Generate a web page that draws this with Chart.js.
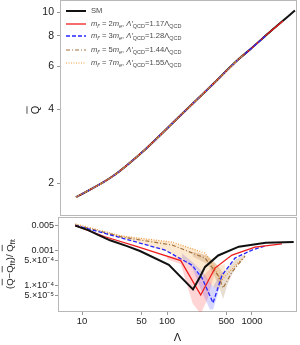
<!DOCTYPE html>
<html>
<head>
<meta charset="utf-8">
<script src="https://cdn.jsdelivr.net/npm/chart.js@4.4.1/dist/chart.umd.min.js"></script>
<style>
  body { margin: 0; background: #fff; width: 300px; height: 345px; overflow: hidden; position: relative; }
  canvas { position: absolute; left: 0; }
  #top-chart { top: 0; }
  #bot-chart { top: 217px; }
</style>
</head>
<body>
<canvas id="top-chart" width="300" height="217"></canvas>
<canvas id="bot-chart" width="300" height="128"></canvas>
<script>
// ---- top panel: Qbar vs Lambda ----
const topLamSM = [8.05, 21.3, 52.2, 131, 321, 684, 946, 1600, 3206];
const topSM    = [1.755, 2.12, 2.73, 3.70, 4.98, 6.41, 7.05, 8.28, 10.14];
const topLam2  = [8.05, 21.3, 52.2, 131, 321, 684, 946, 1600, 2317];
const topQ2    = [1.755, 2.12, 2.73, 3.70, 4.98, 6.41, 7.05, 8.28, 9.2];
const topLam3  = [8.05, 21.3, 52.2, 131, 321, 684, 946, 1422];
const topQ3    = [1.755, 2.12, 2.73, 3.70, 4.98, 6.41, 7.05, 7.96];
const topLam5  = [8.05, 21.3, 52.2, 131, 321, 684, 828];
const topQ5    = [1.755, 2.12, 2.73, 3.70, 4.98, 6.41, 6.78];
const topLam7  = [8.05, 21.3, 52.2, 131, 321, 684, 780];
const topQ7    = [1.755, 2.12, 2.73, 3.70, 4.98, 6.41, 6.7];
const topYTicks = [2, 4, 6, 8, 10];

// ---- bottom panel: relative deviation from fit ----
const botLamSM = [8.3, 11.8, 15.4, 21.3, 33.8, 48, 105, 202, 244, 280, 400, 700, 1450, 3100];
const botSM    = [5.0e-3, 3.7e-3, 2.7e-3, 1.9e-3, 1.3e-3, 9.4e-4, 3.8e-4, 7.5e-5, 1.7e-4, 3.3e-4, 7.0e-4, 1.25e-3, 1.62e-3, 1.7e-3];
const botLam2  = [8.3, 18.6, 45.6, 145, 249, 367, 582, 1084, 2254];
const botQ2    = [5.0e-3, 2.4e-3, 1.24e-3, 5.0e-4, 5.2e-5, 3.06e-4, 7.2e-4, 1.22e-3, 1.5e-3];
const botLam3  = [8.3, 29.5, 94.6, 197, 258, 348, 444, 631, 1000, 1422];
const botQ3    = [5.1e-3, 2.2e-3, 1.0e-3, 3.7e-4, 1.6e-4, 3.1e-5, 1.9e-4, 5.9e-4, 1.0e-3, 1.3e-3];
const botLam5  = [8.3, 29.5, 115, 280, 398, 456, 582, 828];
const botQ5    = [5.3e-3, 2.35e-3, 1.39e-3, 5.9e-4, 1.9e-4, 8.2e-5, 2.35e-4, 6.7e-4];
const botLam7  = [8.3, 29.5, 115, 280, 367, 430, 560, 780];
const botQ7    = [5.6e-3, 2.5e-3, 1.69e-3, 8.2e-4, 3.0e-4, 1.3e-4, 2.6e-4, 5.9e-4];

// uncertainty bands
const band2Lam = [100, 145, 200, 249, 300, 367];
const band2Hi  = [7e-4, 6e-4, 3.5e-4, 1.5e-4, 2.5e-4, 3.6e-4];
const band2Lo  = [5.5e-4, 4e-4, 3e-5, 1.5e-5, 4e-5, 2.5e-4];
const band3Lam = [150, 200, 260, 320, 348, 400, 450];
const band3Hi  = [8e-4, 4.5e-4, 2.5e-4, 1.2e-4, 9e-5, 1.6e-4, 2.4e-4];
const band3Lo  = [6e-4, 3e-4, 6e-5, 2e-5, 2e-5, 6e-5, 1.8e-4];
const band7Lam = [20, 40, 100, 200, 300, 400, 480];
const band7Hi  = [3.2e-3, 2.3e-3, 1.75e-3, 1.1e-3, 6.5e-4, 3.5e-4, 4e-4];
const band7Lo  = [2.8e-3, 1.8e-3, 9e-4, 3.8e-4, 1.3e-4, 7e-5, 2e-4];
const band5Lam = [200, 300, 400, 456, 520, 650, 830];
const band5Hi  = [9e-4, 7e-4, 3.5e-4, 2.2e-4, 3.2e-4, 5.5e-4, 7.5e-4];
const band5Lo  = [6.5e-4, 4e-4, 1.1e-4, 4e-5, 1.1e-4, 3.5e-4, 6e-4];

const botXTicks = [10, 50, 100, 500, 1000];
const botYTicks = [5e-5, 1e-4, 5e-4, 1e-3, 5e-3];
const botYLabels = ["5.\u00d710\u207b\u2075", "1.\u00d710\u207b\u2074", "5.\u00d710\u207b\u2074", "0.001", "0.005"];

// series styles
const styles = {
    sm:  { color: "#111111", width: 2, dash: [] },
    m2:  { color: "#ee1c1c", width: 1.3, dash: [] },
    m3:  { color: "#2626ff", width: 1.3, dash: [4, 2] },
    m5:  { color: "#a0703c", width: 1.2, dash: [4, 2, 1, 2] },
    m7:  { color: "#f39a3c", width: 1.2, dash: [1, 1.5] },
};

const FONT = '"Liberation Sans", Arial, sans-serif';
const pts = (xs, ys) => xs.map((x, i) => ({ x, y: ys[i] }));

function lineSet(xs, ys, st, order, smooth) {
    return {
        data: pts(xs, ys),
        borderColor: st.color,
        borderWidth: st.width,
        borderDash: st.dash,
        pointRadius: 0,
        fill: false,
        order: order,
        cubicInterpolationMode: smooth ? "monotone" : "default",
    };
}

function bandSets(xs, hi, lo, color) {
    return [
        { data: pts(xs, hi), borderWidth: 0, pointRadius: 0, backgroundColor: color, fill: "+1", order: 20 },
        { data: pts(xs, lo), borderWidth: 0, pointRadius: 0, fill: false, order: 21 },
    ];
}

// text with italic / sub / overline pieces
function drawRich(c, parts, x, y, size) {
    let cx = x;
    parts.forEach((p) => {
        const s = p.sub ? size * 0.72 : size;
        c.font = (p.it ? "italic " : "") + s + "px " + FONT;
        const dy = p.sub ? size * 0.3 : 0;
        c.fillText(p.t, cx, y + dy);
        const w = c.measureText(p.t).width;
        if (p.bar) {
            c.save();
            c.lineWidth = 0.8;
            c.strokeStyle = c.fillStyle;
            c.beginPath();
            c.moveTo(cx + 0.5, y + dy - s * 0.82);
            c.lineTo(cx + w - 0.5, y + dy - s * 0.82);
            c.stroke();
            c.restore();
        }
        cx += w;
    });
    return cx - x;
}

function richWidth(c, parts, size) {
    let w = 0;
    parts.forEach((p) => {
        const s = p.sub ? size * 0.72 : size;
        c.font = (p.it ? "italic " : "") + s + "px " + FONT;
        w += c.measureText(p.t).width;
    });
    return w;
}

function drawRotated(c, parts, x, y, size) {
    c.save();
    c.translate(x, y);
    c.rotate(-Math.PI / 2);
    c.textBaseline = "middle";
    const w = richWidth(c, parts, size);
    drawRich(c, parts, -w / 2, 0, size);
    c.restore();
}

const framePlugin = {
    id: "frame",
    beforeDatasetsDraw(chart) {
        const a = chart.chartArea;
        const c = chart.ctx;
        c.save();
        c.strokeStyle = "#b8b8b8";
        c.lineWidth = 1;
        c.strokeRect(a.left + 0.5, a.top + 0.5, a.right - a.left - 1, a.bottom - a.top - 1);
        c.restore();
    },
};

const mfParts = (n, r) => [
    { t: "m", it: true }, { t: "f\u2032", sub: true, it: true }, { t: " = " + n }, { t: "m", it: true },
    { t: "e", sub: true, it: true }, { t: ", " }, { t: "\u039b\u2032", it: true }, { t: "QCD", sub: true },
    { t: "=" + r + "\u039b" }, { t: "QCD", sub: true },
];
const legendItems = [
    { st: styles.sm, parts: [{ t: "SM" }] },
    { st: styles.m2, parts: mfParts(2, "1.17") },
    { st: styles.m3, parts: mfParts(3, "1.28") },
    { st: styles.m5, parts: mfParts(5, "1.44") },
    { st: styles.m7, parts: mfParts(7, "1.55") },
];

const topDecor = {
    id: "topDecor",
    afterDraw(chart) {
        const c = chart.ctx;
        const rows = [11, 24, 36, 50, 63];
        c.save();
        c.textBaseline = "middle";
        legendItems.forEach((it, i) => {
            c.strokeStyle = it.st.color;
            c.lineWidth = it.st.width;
            c.setLineDash(it.st.dash);
            c.beginPath();
            c.moveTo(66, rows[i]);
            c.lineTo(86, rows[i]);
            c.stroke();
            c.setLineDash([]);
            c.fillStyle = "#4a4a4a";
            drawRich(c, it.parts, 91, rows[i], 7.6);
        });
        c.fillStyle = "#222";
        drawRotated(c, [{ t: "Q", bar: true }], 36, 110, 11);
        c.restore();
    },
};

const botDecor = {
    id: "botDecor",
    afterDraw(chart) {
        const c = chart.ctx;
        c.save();
        c.fillStyle = "#222";
        drawRotated(c, [
            { t: "(" }, { t: "Q", bar: true }, { t: "\u2212" }, { t: "Q", bar: true }, { t: "fit", sub: true },
            { t: ")/ " }, { t: "Q", bar: true }, { t: "fit", sub: true },
        ], 10, 47, 9.5);
        c.restore();
    },
};

const xRange = { min: 5.2, max: 3390 };

// Top chart
new Chart(document.getElementById("top-chart"), {
    type: "line",
    data: {
        datasets: [
            lineSet(topLamSM, topSM, styles.sm, 5, true),
            lineSet(topLam2, topQ2, styles.m2, 4, true),
            lineSet(topLam3, topQ3, styles.m3, 3, true),
            lineSet(topLam5, topQ5, styles.m5, 2, true),
            lineSet(topLam7, topQ7, styles.m7, 1, true),
        ],
    },
    options: {
        responsive: false,
        animation: false,
        events: [],
        layout: { autoPadding: false, padding: { top: 0, right: 3, bottom: 1, left: 0 } },
        plugins: { legend: { display: false }, tooltip: { enabled: false } },
        scales: {
            x: { type: "logarithmic", min: xRange.min, max: xRange.max, display: false },
            y: {
                type: "logarithmic",
                min: 1.47,
                max: 11.2,
                afterBuildTicks: (s) => { s.ticks = topYTicks.map((v) => ({ value: v })); },
                afterFit: (s) => { s.width = 60; s.paddingTop = 0; s.paddingBottom = 0; },
                border: { display: false },
                grid: { drawOnChartArea: false, tickLength: 3, color: "#999" },
                ticks: { color: "#222", padding: 3, font: { family: FONT, size: 10.5 }, callback: (v) => String(v) },
            },
        },
    },
    plugins: [framePlugin, topDecor],
});

// Bottom chart
new Chart(document.getElementById("bot-chart"), {
    type: "line",
    data: {
        datasets: [
            lineSet(botLamSM, botSM, styles.sm, 1),
            lineSet(botLam2, botQ2, styles.m2, 2),
            lineSet(botLam3, botQ3, styles.m3, 3),
            lineSet(botLam5, botQ5, styles.m5, 4),
            lineSet(botLam7, botQ7, styles.m7, 5),
            ...bandSets(band7Lam, band7Hi, band7Lo, "rgba(245,150,40,0.22)"),
            ...bandSets(band5Lam, band5Hi, band5Lo, "rgba(160,120,70,0.25)"),
            ...bandSets(band2Lam, band2Hi, band2Lo, "rgba(255,40,40,0.2)"),
            ...bandSets(band3Lam, band3Hi, band3Lo, "rgba(50,50,255,0.2)"),
        ],
    },
    options: {
        responsive: false,
        animation: false,
        events: [],
        layout: { autoPadding: false, padding: { top: 0, right: 3, bottom: 0, left: 0 } },
        plugins: { legend: { display: false }, tooltip: { enabled: false } },
        scales: {
            x: {
                type: "logarithmic",
                min: xRange.min,
                max: xRange.max,
                afterBuildTicks: (s) => { s.ticks = botXTicks.map((v) => ({ value: v })); },
                afterFit: (s) => { s.height = 33; s.paddingLeft = 0; s.paddingRight = 0; },
                border: { display: false },
                grid: { drawOnChartArea: false, tickLength: 3, color: "#999" },
                ticks: { color: "#222", padding: 1, maxRotation: 0, font: { family: FONT, size: 9.5 }, callback: (v) => String(v) },
                title: { display: true, text: "\u039b", color: "#222", font: { family: FONT, size: 11 }, padding: 0 },
            },
            y: {
                type: "logarithmic",
                min: 1.7e-5,
                max: 0.0088,
                afterBuildTicks: (s) => { s.ticks = botYTicks.map((v) => ({ value: v })); },
                afterFit: (s) => { s.width = 58; s.paddingTop = 0; s.paddingBottom = 0; },
                border: { display: false },
                grid: { drawOnChartArea: false, tickLength: 3, color: "#999" },
                ticks: {
                    color: "#222",
                    padding: 1,
                    font: { family: FONT, size: 9 },
                    callback: (v) => botYLabels[botYTicks.indexOf(v)] ?? "",
                },
            },
        },
    },
    plugins: [framePlugin, botDecor],
});
</script>
</body>
</html>
